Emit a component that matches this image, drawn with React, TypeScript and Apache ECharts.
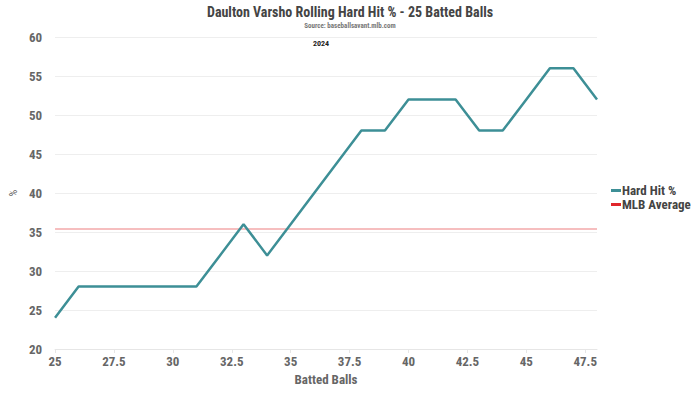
import React, { useEffect, useRef } from "react";
import * as echarts from "echarts";

const battedBalls = [25, 26, 27, 28, 29, 30, 31, 32, 33, 34, 35, 36, 37, 38, 39, 40, 41, 42, 43, 44, 45, 46, 47, 48];
const hardHitPct = [24, 28, 28, 28, 28, 28, 28, 32, 36, 32, 36, 40, 44, 48, 48, 52, 52, 52, 48, 48, 52, 56, 56, 52];
const mlbAverage = 35.4;

export default function App() {
  const ref = useRef<HTMLDivElement>(null);
  useEffect(() => {
    if (!ref.current) return;
    const chart = echarts.init(ref.current, undefined, { renderer: "svg" });
    const font = "'Roboto Condensed', 'Liberation Sans Narrow', 'DejaVu Sans Condensed', Roboto";
    const lineData = battedBalls.map((x, i) => [x, hardHitPct[i]]);
    const avgData = [
      [battedBalls[0], mlbAverage],
      [battedBalls[battedBalls.length - 1], mlbAverage],
    ];
    chart.setOption({
      animation: false,
      backgroundColor: "#ffffff",
      textStyle: { fontFamily: font },
      title: [
        {
          text: "Daulton Varsho Rolling Hard Hit % - 25 Batted Balls",
          left: "center",
          top: 0,
          textStyle: { fontFamily: font, fontSize: 14, fontWeight: "bold", color: "#444444" },
        },
        {
          text: "Source: baseballsavant.mlb.com",
          left: "center",
          top: 17,
          textStyle: { fontFamily: font, fontSize: 7, fontWeight: "bold", color: "#777777" },
        },
        {
          text: "2024",
          left: 316,
          top: 34,
          textAlign: "center",
          textStyle: { fontFamily: font, fontSize: 8, fontWeight: "bold", color: "#222222" },
        },
      ],
      legend: {
        orient: "vertical",
        left: 606,
        top: 179,
        itemGap: 1,
        itemWidth: 10,
        itemHeight: 3,
        icon: "rect",
        textStyle: { fontFamily: font, fontSize: 13, fontWeight: "bold", color: "#444444", padding: [0, 0, 0, -4] },
        data: [
          { name: "Hard Hit %", itemStyle: { color: "#3d8f96" } },
          { name: "MLB Average", itemStyle: { color: "#e0262b" } },
        ],
      },
      grid: { left: 53, right: 103, top: 37, bottom: 45, containLabel: false },
      xAxis: {
        type: "value",
        min: 25,
        max: 48,
        interval: 2.5,
        name: "Batted Balls",
        nameLocation: "middle",
        nameGap: 24,
        nameTextStyle: { fontFamily: font, fontSize: 13, fontWeight: "bold", color: "#666666" },
        axisLine: { show: true, lineStyle: { color: "#e6e6e6" } },
        axisTick: { show: true, length: 4, lineStyle: { color: "#e6e6e6" } },
        axisLabel: { fontFamily: font, fontSize: 13, fontWeight: "bold", color: "#666666", margin: 6, showMaxLabel: false },
        splitLine: { show: false },
      },
      yAxis: {
        type: "value",
        min: 20,
        max: 60,
        interval: 5,
        name: "%",
        nameLocation: "middle",
        nameGap: 35,
        nameRotate: 90,
        nameTextStyle: { fontFamily: font, fontSize: 10, color: "#555555" },
        axisLine: { show: false },
        axisTick: { show: false },
        axisLabel: { fontFamily: font, fontSize: 13, fontWeight: "bold", color: "#666666", margin: 13 },
        splitLine: { show: true, lineStyle: { color: "#eeeeee" } },
      },
      series: [
        {
          name: "Hard Hit %",
          type: "line",
          data: lineData,
          showSymbol: false,
          symbol: "none",
          lineStyle: { color: "#3d8f96", width: 2.5 },
          itemStyle: { color: "#3d8f96" },
          z: 3,
        },
        {
          name: "MLB Average",
          type: "line",
          data: avgData,
          showSymbol: false,
          symbol: "none",
          lineStyle: { color: "#e0262b", width: 1.5, opacity: 0.4 },
          itemStyle: { color: "#e0262b" },
          z: 2,
        },
      ],
    });
    return () => chart.dispose();
  }, []);
  return <div ref={ref} style={{ width: 700, height: 394, position: "absolute", left: 0, top: 0 }} />;
}
